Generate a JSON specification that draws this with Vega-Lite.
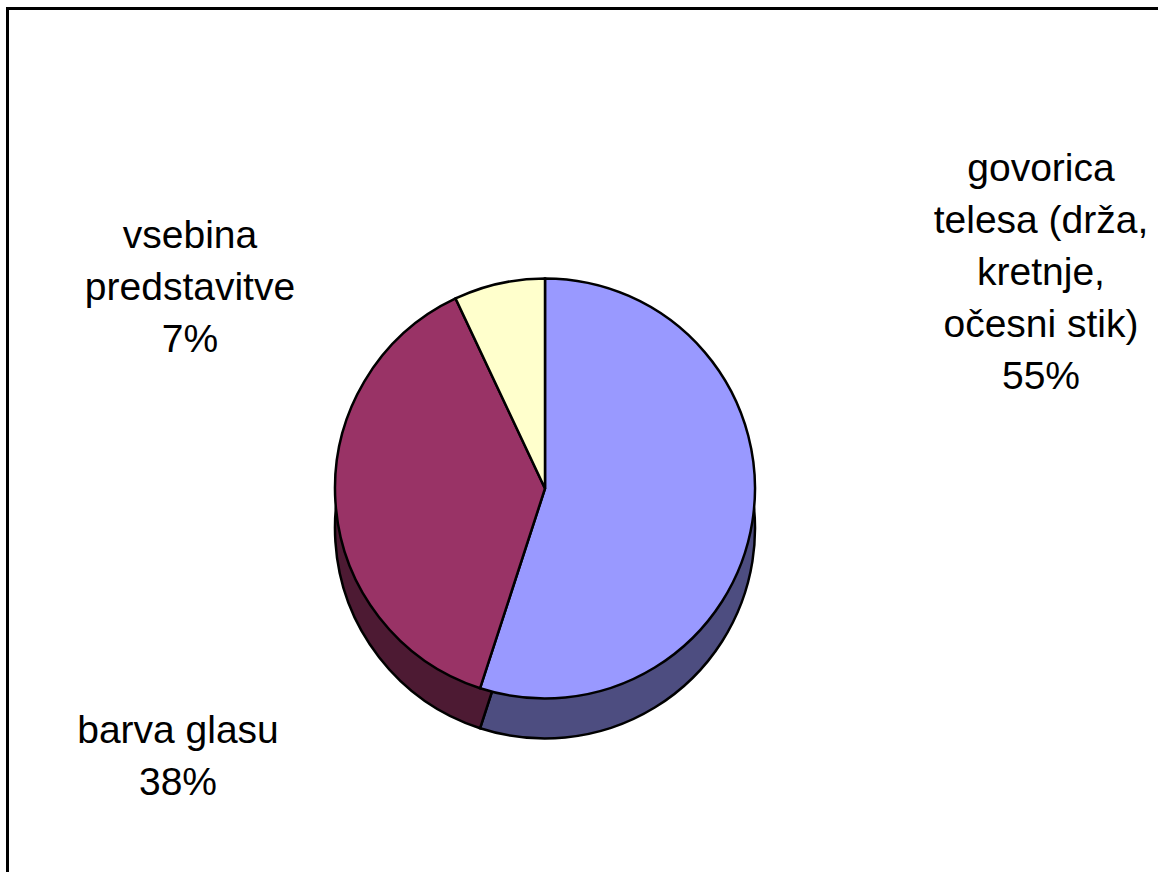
{
  "$schema": "https://vega.github.io/schema/vega-lite/v6.json",
  "width": 1155,
  "height": 868,
  "autosize": "none",
  "padding": {"left": 7.5, "top": 8.5, "right": -4.5, "bottom": -4.5},
  "background": "white",
  "config": {
    "view": {"stroke": null},
    "font": "Liberation Sans"
  },
  "data": {
    "values": [
      {"kategorija": "govorica telesa (drža, kretnje, očesni stik)", "oznaka": "govorica\ntelesa (drža,\nkretnje,\nočesni stik)", "delez": 55, "red": 1},
      {"kategorija": "barva glasu", "oznaka": "barva glasu", "delez": 38, "red": 2},
      {"kategorija": "vsebina predstavitve", "oznaka": "vsebina\npredstavitve", "delez": 7, "red": 3}
    ]
  },
  "transform": [
    {"calculate": "datum.oznaka + '\\n' + datum.delez + '%'", "as": "napis"}
  ],
  "layer": [
    {
      "transform": [{"aggregate": [{"op": "count", "as": "n"}]}],
      "mark": {"type": "rect", "fill": null, "fillOpacity": 0, "stroke": "black", "strokeWidth": 3},
      "encoding": {}
    },
    {
      "mark": {"type": "arc", "x": {"expr": "width/2-40"}, "y": {"expr": "height/2+86"}, "outerRadius": 210, "stroke": "black", "strokeWidth": 2.5},
      "encoding": {
        "theta": {"field": "delez", "type": "quantitative", "stack": true},
        "order": {"field": "red", "type": "quantitative"},
        "color": {
          "field": "kategorija", "type": "nominal", "legend": null,
          "scale": {
            "domain": ["govorica telesa (drža, kretnje, očesni stik)", "barva glasu", "vsebina predstavitve"],
            "range": ["#4D4D80", "#4D1A33", "#808066"]
          }
        }
      }
    },
    {
      "mark": {"type": "arc", "x": {"expr": "width/2-40"}, "y": {"expr": "height/2+46"}, "outerRadius": 210, "stroke": "black", "strokeWidth": 2.5},
      "encoding": {
        "theta": {"field": "delez", "type": "quantitative", "stack": true},
        "order": {"field": "red", "type": "quantitative"},
        "color": {
          "field": "kategorija", "type": "nominal", "legend": null,
          "scale": {
            "domain": ["govorica telesa (drža, kretnje, očesni stik)", "barva glasu", "vsebina predstavitve"],
            "range": ["#9999FF", "#993366", "#FFFFCC"]
          }
        }
      }
    },
    {
      "transform": [{"filter": "datum.red == 1"}],
      "mark": {"type": "text", "x": {"expr": "width/2-40"}, "y": {"expr": "height/2+46"}, "dx": 496, "dy": -320, "align": "center", "baseline": "middle", "fontSize": 39, "lineHeight": 52, "lineBreak": "\n", "color": "black"},
      "encoding": {"text": {"field": "napis", "type": "nominal"}}
    },
    {
      "transform": [{"filter": "datum.red == 2"}],
      "mark": {"type": "text", "x": {"expr": "width/2-40"}, "y": {"expr": "height/2+46"}, "dx": -367, "dy": 242, "align": "center", "baseline": "middle", "fontSize": 39, "lineHeight": 52, "lineBreak": "\n", "color": "black"},
      "encoding": {"text": {"field": "napis", "type": "nominal"}}
    },
    {
      "transform": [{"filter": "datum.red == 3"}],
      "mark": {"type": "text", "x": {"expr": "width/2-40"}, "y": {"expr": "height/2+46"}, "dx": -355, "dy": -253, "align": "center", "baseline": "middle", "fontSize": 39, "lineHeight": 52, "lineBreak": "\n", "color": "black"},
      "encoding": {"text": {"field": "napis", "type": "nominal"}}
    }
  ],
  "resolve": {"scale": {"color": "independent"}}
}
